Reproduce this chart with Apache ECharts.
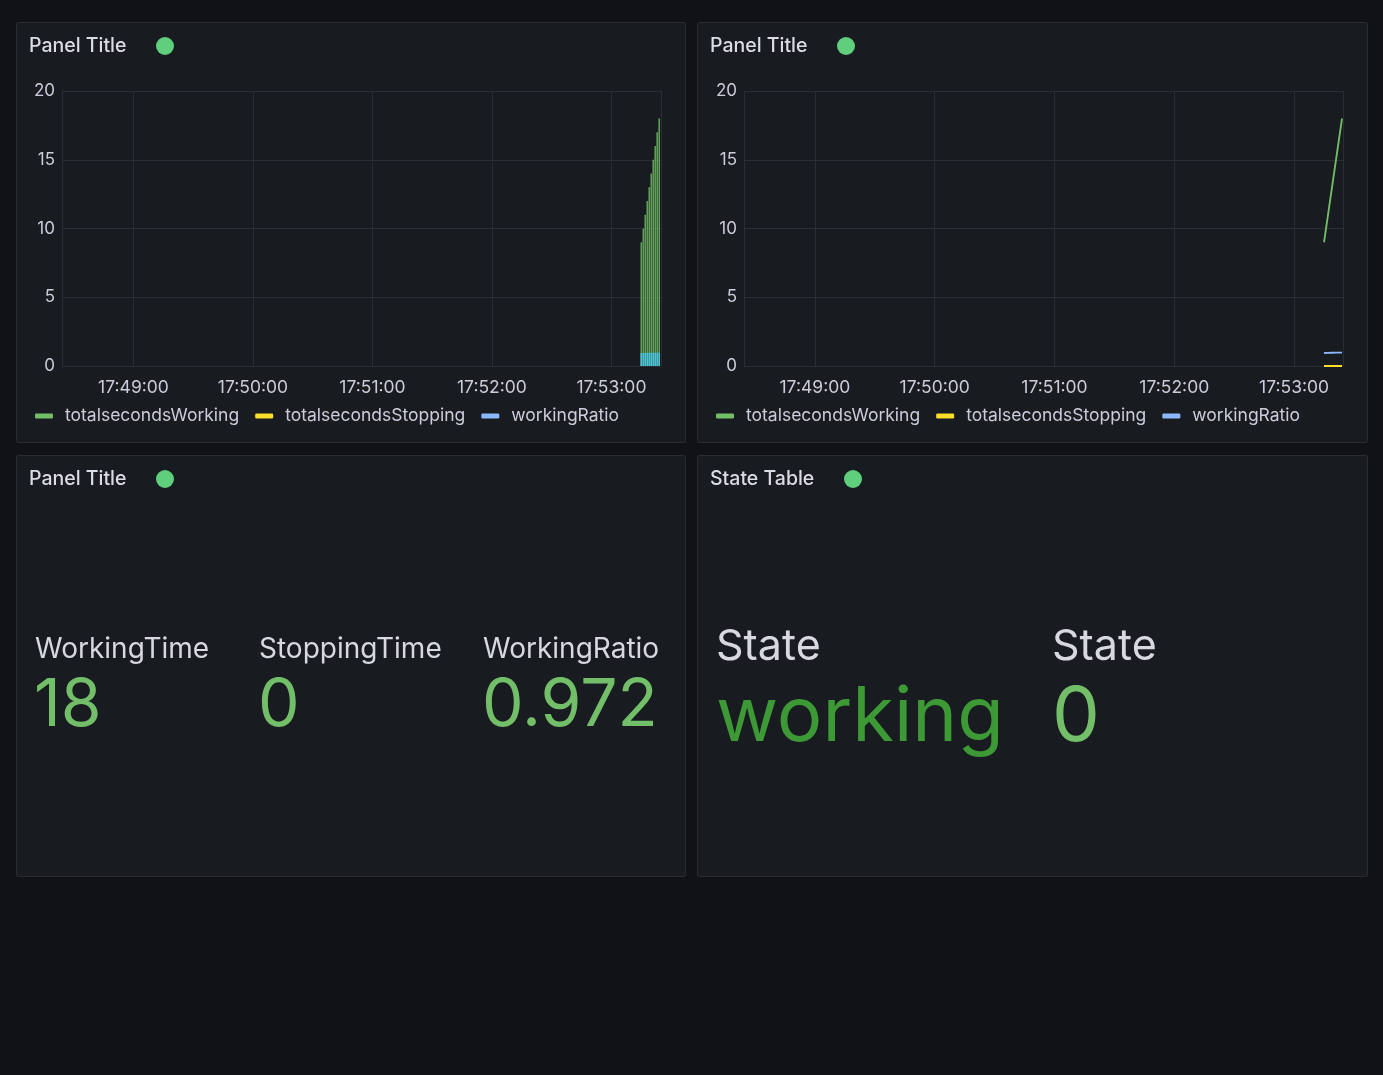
<!DOCTYPE html>
<html>
<head>
<meta charset="utf-8">
<title>Dashboard</title>
<script src="https://cdn.jsdelivr.net/npm/echarts@6/dist/echarts.min.js"></script>
<style>
  html, body { margin: 0; padding: 0; background: #111217; }
  #main { width: 1383px; height: 1075px; }
</style>
</head>
<body>
<div id="main"></div>
<script>
// data
const day = '2024-01-01'
const times = ['17:53:15', '17:53:16', '17:53:17', '17:53:18', '17:53:19', '17:53:20', '17:53:21', '17:53:22', '17:53:23', '17:53:24']
const totalsecondsWorking = [9, 10, 11, 12, 13, 14, 15, 16, 17, 18]
const totalsecondsStopping = [0, 0, 0, 0, 0, 0, 0, 0, 0, 0]
const workingRatio = [0.944, 0.95, 0.955, 0.958, 0.962, 0.964, 0.967, 0.969, 0.971, 0.972]
const rangeStart = '17:48:24.500'
const rangeEnd = '17:53:24.500'
const yMax = 20
const yStep = 5

const statNames = ['WorkingTime', 'StoppingTime', 'WorkingRatio']
const stateNames = ['State', 'State']
const stateValues = ['working', '0']

const seriesNames = ['totalsecondsWorking', 'totalsecondsStopping', 'workingRatio']
const seriesColors = ['#73bf69', '#fade2a', '#8ab8ff']

const FONT = 'Inter, "Noto Sans", sans-serif'
const TEXT = '#ccccdc'

function ts(t) {
  return new Date(day + 'T' + t).getTime()
}
function pair(vals) {
  return times.map((t, i) => [ts(t), vals[i]])
}
function hms(v) {
  const d = new Date(v)
  const p = n => String(n).padStart(2, '0')
  return p(d.getHours()) + ':' + p(d.getMinutes()) + ':' + p(d.getSeconds())
}

// panel boxes
const panels = [
  { x: 16, y: 22, w: 669, h: 420, title: 'Panel Title', dot: 165 },
  { x: 697, y: 22, w: 670, h: 420, title: 'Panel Title', dot: 846 },
  { x: 16, y: 455, w: 669, h: 421, title: 'Panel Title', dot: 165 },
  { x: 697, y: 455, w: 670, h: 421, title: 'State Table', dot: 853 }
]
const grids = [
  { left: 62, top: 91, width: 599, height: 275 },
  { left: 744, top: 91, width: 599, height: 275 }
]

const graphic = []
panels.forEach(p => {
  graphic.push({
    type: 'rect', z: -1, silent: true,
    shape: { x: p.x + 0.5, y: p.y + 0.5, width: p.w, height: p.h, r: 2 },
    style: { fill: '#181b1f', stroke: '#2b2d32', lineWidth: 1 }
  })
  graphic.push({
    type: 'text', z: 10,
    style: { text: p.title, x: p.x + 13, y: p.y + 24, verticalAlign: 'middle',
      fontFamily: FONT, fontSize: 19.5, fontWeight: 500, fill: '#dcdce6' }
  })
  graphic.push({
    type: 'circle', z: 10,
    shape: { cx: p.dot, cy: p.y + 24, r: 9 },
    style: { fill: '#5fcf7c' }
  })
})

// stat panel
const statValues = [
  totalsecondsWorking[totalsecondsWorking.length - 1],
  totalsecondsStopping[totalsecondsStopping.length - 1],
  workingRatio[workingRatio.length - 1]
]
const statX = [35, 259, 483]
statNames.forEach((name, i) => {
  graphic.push({
    type: 'text', z: 10,
    style: { text: name, x: statX[i], y: 650, verticalAlign: 'middle',
      fontFamily: FONT, fontSize: 28, fill: '#d8d9e0' }
  })
  graphic.push({
    type: 'text', z: 10,
    style: { text: String(statValues[i]), x: statX[i] - 1, y: 706, verticalAlign: 'middle',
      fontFamily: FONT, fontSize: 66, fill: '#73bf69' }
  })
})

// state table
const stateX = [716, 1052]
const stateColors = ['#3d9935', '#73bf69']
stateNames.forEach((name, i) => {
  graphic.push({
    type: 'text', z: 10,
    style: { text: name, x: stateX[i], y: 647, verticalAlign: 'middle',
      fontFamily: FONT, fontSize: 43, fill: '#d8d9e0' }
  })
  graphic.push({
    type: 'text', z: 10,
    style: { text: stateValues[i], x: stateX[i], y: 718, verticalAlign: 'middle',
      fontFamily: FONT, fontSize: 76, fill: stateColors[i] }
  })
})

const xAxes = grids.map((g, i) => ({
  type: 'time',
  gridIndex: i,
  min: ts(rangeStart),
  max: ts(rangeEnd),
  minInterval: 60000,
  maxInterval: 60000,
  axisLine: { show: false },
  axisTick: { show: false },
  splitLine: { show: true, lineStyle: { color: '#2a2d33', width: 1 } },
  axisLabel: {
    formatter: hms, color: TEXT, fontFamily: FONT, fontSize: 17.5, margin: 13,
    showMinLabel: false, showMaxLabel: false, hideOverlap: false
  }
}))
const yAxes = grids.map((g, i) => ({
  type: 'value',
  gridIndex: i,
  min: 0,
  max: yMax,
  interval: yStep,
  axisLine: { show: false },
  axisTick: { show: false },
  splitLine: { lineStyle: { color: '#2a2d33', width: 1 } },
  axisLabel: { color: TEXT, fontFamily: FONT, fontSize: 17, margin: 7 }
}))

const valuesBySeries = [totalsecondsWorking, totalsecondsStopping, workingRatio]
const series = []
// panel 1: bars, overlapping
const barColors = ['rgba(115,191,105,0.8)', 'rgba(250,222,42,0.8)', 'rgba(72,196,226,0.95)']
seriesNames.forEach((name, i) => {
  series.push({
    name,
    type: 'bar',
    xAxisIndex: 0,
    yAxisIndex: 0,
    barWidth: 1.6,
    barGap: '-100%',
    itemStyle: { color: barColors[i] },
    data: pair(valuesBySeries[i]),
    animation: false
  })
})
// panel 2: lines
seriesNames.forEach((name, i) => {
  series.push({
    name,
    type: 'line',
    xAxisIndex: 1,
    yAxisIndex: 1,
    showSymbol: false,
    lineStyle: { color: seriesColors[i], width: 1.8 },
    itemStyle: { color: seriesColors[i] },
    data: pair(valuesBySeries[i]),
    animation: false
  })
})

const legendData = seriesNames.map((name, i) => ({ name, itemStyle: { color: seriesColors[i] } }))
const legends = [30, 711].map(left => ({
  left,
  top: 402,
  icon: 'roundRect',
  itemWidth: 18,
  itemHeight: 5,
  itemGap: 16,
  selectedMode: false,
  data: legendData,
  textStyle: { color: TEXT, fontFamily: FONT, fontSize: 17.5, padding: [0, 0, 0, 7] }
}))

const chart = echarts.init(document.getElementById('main'))
chart.setOption({
  backgroundColor: '#111217',
  animation: false,
  grid: grids,
  xAxis: xAxes,
  yAxis: yAxes,
  legend: legends,
  series,
  graphic
})
</script>
</body>
</html>
